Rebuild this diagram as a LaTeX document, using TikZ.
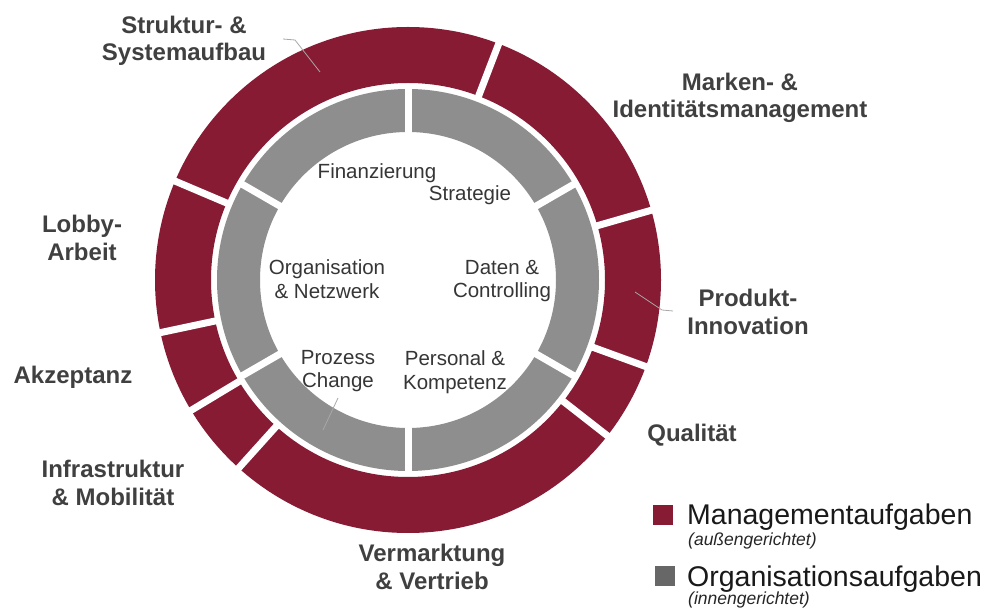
\documentclass[tikz,border=0pt]{standalone}
\usepackage{fontspec}
\setmainfont{Liberation Sans}
\definecolor{ringred}{HTML}{871B33}
\definecolor{ringgray}{HTML}{8E8E8E}
\definecolor{leggray}{HTML}{676767}
\definecolor{labeltext}{HTML}{404040}
\definecolor{innertext}{HTML}{363636}
\definecolor{calloutgray}{HTML}{A8A8A8}
\tikzset{
  outerlabel/.style={font=\bfseries\fontsize{24}{27.5}\selectfont, text=labeltext, align=center, inner sep=0pt},
  innerlabel/.style={font=\fontsize{20.5}{23.5}\selectfont, text=innertext, align=center, inner sep=0pt},
  legendtext/.style={font=\fontsize{28.5}{32}\selectfont, text=black!90, anchor=west, inner sep=0pt},
  legendsub/.style={font=\itshape\fontsize{17.5}{20}\selectfont, text=black!85, anchor=west, inner sep=0pt},
  gapline/.style={white, line width=7pt},
  callout/.style={calloutgray, line width=0.8pt},
}
\begin{document}
\begin{tikzpicture}[x=1pt,y=-1pt]
\useasboundingbox (0,0) rectangle (986,612);
\fill[white] (0,0) rectangle (986,612);

% ring
\begin{scope}[shift={(408,280)}]
  % outer red ring (Managementaufgaben)
  \fill[ringred, even odd rule] (0pt,0pt) circle[radius=253pt] (0pt,0pt) circle[radius=197pt];
  \foreach \a in {69,16,-20,-38,-132,-149,192,157}
    \draw[gapline] (\a:193pt) -- (\a:257pt);
  % inner gray ring (Organisationsaufgaben)
  \fill[ringgray, even odd rule] (0pt,0pt) circle[radius=191pt] (0pt,0pt) circle[radius=148pt];
  \foreach \a in {30,90,150,210,270,330}
    \draw[gapline] (\a:144pt) -- (\a:193pt);
\end{scope}

% outer labels
\node[outerlabel] (struktur) at (184,41) {Struktur- \&\\Systemaufbau};
\node[outerlabel] (marken) at (740,98) {Marken- \&\\Identitätsmanagement};
\node[outerlabel] (lobby) at (82,238) {Lobby-\\Arbeit};
\node[outerlabel] (akzeptanz) at (73,377) {Akzeptanz};
\node[outerlabel] (infra) at (113,483) {Infrastruktur\\\& Mobilität};
\node[outerlabel] (produkt) at (748,312) {Produkt-\\Innovation};
\node[outerlabel] (qualitaet) at (692,435) {Qualität};
\node[outerlabel] (vermarktung) at (432,567) {Vermarktung\\\& Vertrieb};

% inner labels
\node[innerlabel] (finanz) at (377,173) {Finanzierung};
\node[innerlabel] (strategie) at (470,195) {Strategie};
\node[innerlabel] (organisation) at (327,279) {Organisation\\\& Netzwerk};
\node[innerlabel] (daten) at (502,281) {Daten \&\\Controlling};
\node[innerlabel] (prozess) at (338,371) {Prozess\\Change};
\node[innerlabel] (personal) at (455,372) {Personal \&\\Kompetenz};

% callout lines
\coordinate (c1a) at (283,39);
\coordinate (c1b) at (295,40);
\coordinate (c1c) at (320,72);
\draw[callout] (c1a) -- (c1b) -- (c1c);
\coordinate (c2a) at (635,292);
\coordinate (c2b) at (662,310);
\coordinate (c2c) at (673,311);
\draw[callout] (c2a) -- (c2b) -- (c2c);
\coordinate (c3a) at (338,398);
\coordinate (c3b) at (323,430);
\draw[callout] (c3a) -- (c3b);

% legend
\node[fill=ringred, minimum size=20pt, inner sep=0pt] (legred) at (663,515) {};
\node[legendtext] (legmgmt) at (687,517) {Managementaufgaben};
\node[legendsub] (legaussen) at (688,541) {(außengerichtet)};
\node[fill=leggray, minimum size=20pt, inner sep=0pt] (leggray) at (665,576) {};
\node[legendtext] (legorg) at (687,579) {Organisationsaufgaben};
\node[legendsub] (leginnen) at (688,600) {(innengerichtet)};
\end{tikzpicture}
\end{document}
